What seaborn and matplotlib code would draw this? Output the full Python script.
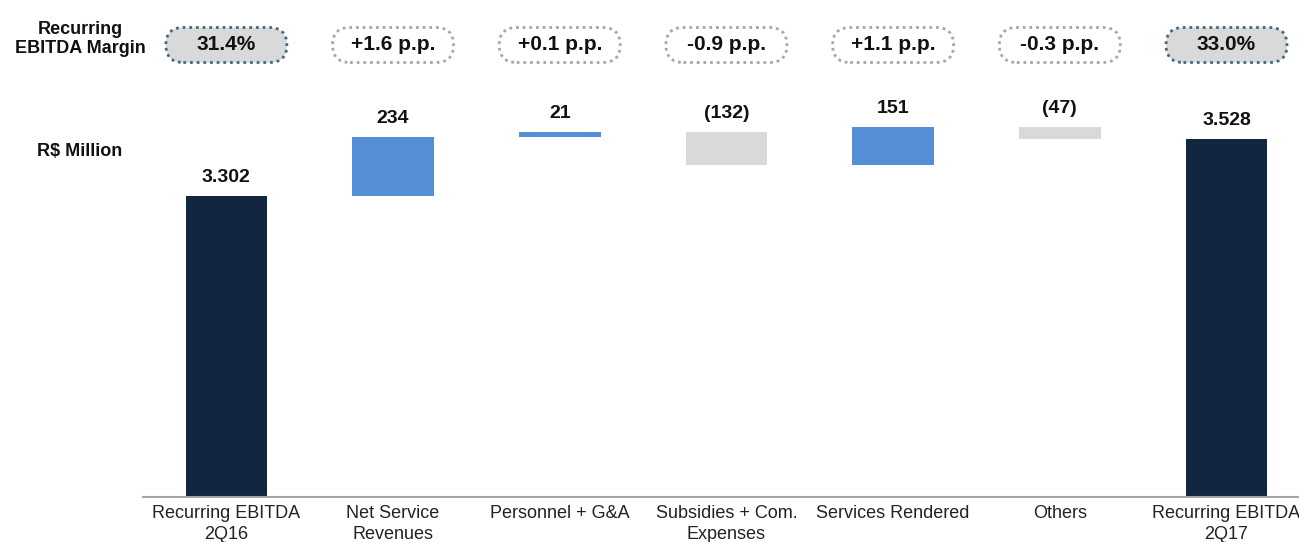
import numpy as np
import pandas as pd
import matplotlib
matplotlib.use("Agg")
import matplotlib.pyplot as plt
from matplotlib.patches import FancyBboxPatch
import seaborn as sns

# data
steps = ["Recurring EBITDA\n2Q16", "Net Service\nRevenues", "Personnel + G&A",
         "Subsidies + Com.\nExpenses", "Services Rendered", "Others",
         "Recurring EBITDA\n2Q17"]
values = [3302, 234, 21, -132, 151, -47, 3528]
value_labels = ["3.302", "234", "21", "(132)", "151", "(47)", "3.528"]
margins = ["31.4%", "+1.6 p.p.", "+0.1 p.p.", "-0.9 p.p.", "+1.1 p.p.", "-0.3 p.p.", "33.0%"]

navy = "#13263f"
blue = "#558ed5"
grey = "#d9d9d9"

sns.set_style("white")
plt.rcParams["font.family"] = ["Liberation Sans", "DejaVu Sans"]

# waterfall bottoms / heights
bottoms = []
heights = []
colors = []
run = 0
for i, v in enumerate(values):
    if i == 0 or i == len(values) - 1:
        bottoms.append(0)
        heights.append(v)
        colors.append(navy)
        run = v
    else:
        bottoms.append(run if v > 0 else run + v)
        heights.append(abs(v))
        colors.append(blue if v > 0 else grey)
        run += v

df = pd.DataFrame({"step": steps, "height": heights})

fig = plt.figure(figsize=(12.99, 5.42), dpi=100)
ax = fig.add_axes([143/1299, 45/542, (1299-143)/1299, (497-100)/542])

sns.barplot(data=df, x="step", y="height", hue="step", palette=colors,
            legend=False, width=0.49, ax=ax, saturation=1)

# lift the floating bars
bars = sorted(ax.patches, key=lambda p: p.get_x())
for b, y0 in zip(bars, bottoms):
    b.set_y(y0)
    b.set_edgecolor("none")

ax.set_ylim(2109, 3683)
ax.set_xlim(-0.5, 6.435)

for i, (y0, h, lab) in enumerate(zip(bottoms, heights, value_labels)):
    ax.annotate(lab, (i, y0 + h), xytext=(0, 7), textcoords="offset points",
                ha="center", va="bottom", fontsize=14, fontweight="bold",
                color="#111111")

sns.despine(ax=ax, left=True, top=True, right=True)
ax.spines["bottom"].set_color("#a6a6a6")
ax.spines["bottom"].set_linewidth(1.5)
ax.set_yticks([])
ax.set_xlabel("")
ax.set_ylabel("")
ax.tick_params(axis="x", length=0, pad=6, labelsize=13, labelcolor="#222222")
for t in ax.get_xticklabels():
    t.set_linespacing(1.25)

# margin pills on top
for i, m in enumerate(margins):
    px = ax.transData.transform((i, 2109))[0] / fig.dpi
    cy = (542 - 45) / fig.dpi
    w, h = 1.21, 0.35
    first_last = i == 0 or i == len(margins) - 1
    pill = FancyBboxPatch((px - w/2, cy - h/2), w, h,
                          boxstyle="round,pad=0,rounding_size=0.175",
                          transform=fig.dpi_scale_trans,
                          facecolor=grey if first_last else "white",
                          edgecolor="#44697d" if first_last else "#a6a6a6",
                          linestyle=(0, (1, 1.4)), linewidth=2)
    fig.patches.append(pill)
    fig.text(px * fig.dpi / 1299, cy * fig.dpi / 542, m, ha="center", va="center",
             fontsize=15, fontweight="bold", color="#111111")

fig.text(80/1299, 1 - 39/542, "Recurring\nEBITDA Margin", ha="center", va="center",
         fontsize=13, fontweight="bold", color="#111111", linespacing=1.15)
fig.text(122/1299, 1 - 152/542, "R$ Million", ha="right", va="center",
         fontsize=13, fontweight="bold", color="#111111")

fig.savefig("out.png", dpi=100)
